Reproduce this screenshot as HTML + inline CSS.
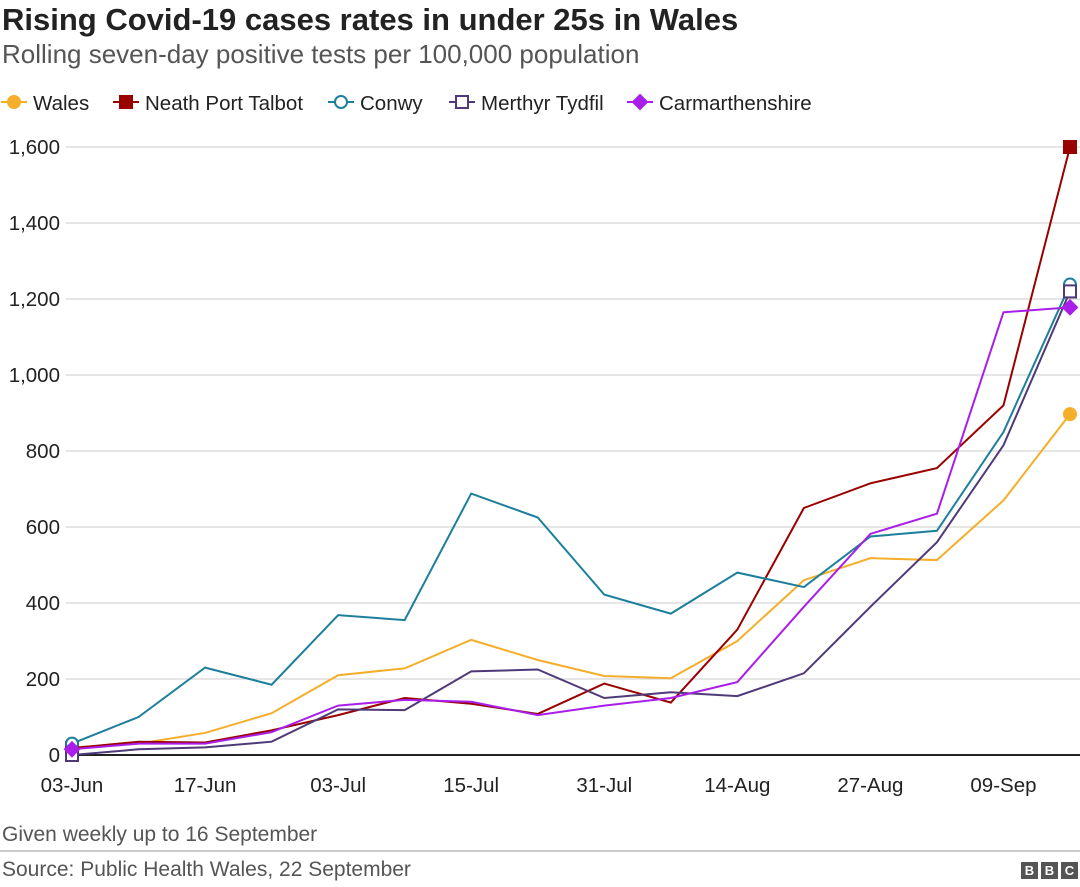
<!DOCTYPE html>
<html><head><meta charset="utf-8"><style>
body{margin:0;width:1080px;height:887px;background:#fff;font-family:"Liberation Sans",sans-serif;overflow:hidden}
</style></head><body>
<svg width="1080" height="887" id="c" style="position:absolute;left:0;top:0">
<text x="2" y="30" font-size="31" font-weight="bold" fill="#222">Rising Covid-19 cases rates in under 25s in Wales</text>
<text x="2" y="63" font-size="26" fill="#555">Rolling seven-day positive tests per 100,000 population</text>
<g id="legend"></g>
<g id="grid"></g>
<g id="series"></g>
<text x="2" y="841" font-size="21" fill="#555">Given weekly up to 16 September</text>
<line x1="0" y1="851" x2="1080" y2="851" stroke="#999"/>
<text x="2" y="876" font-size="21" fill="#555">Source: Public Health Wales, 22 September</text>
<g font-size="13" font-weight="bold" fill="#fff" text-anchor="middle">
<rect x="1021" y="862" width="17" height="17" fill="#555"/><rect x="1041" y="862" width="17" height="17" fill="#555"/><rect x="1061" y="862" width="17" height="17" fill="#555"/>
<text x="1029.5" y="875">B</text><text x="1049.5" y="875">B</text><text x="1069.5" y="875">C</text></g>
</svg>
<script>
const categories=["03-Jun","10-Jun","17-Jun","24-Jun","03-Jul","08-Jul","15-Jul","22-Jul","31-Jul","07-Aug","14-Aug","21-Aug","27-Aug","03-Sep","09-Sep","16-Sep"];
const xTickLabels=["03-Jun","17-Jun","03-Jul","15-Jul","31-Jul","14-Aug","27-Aug","09-Sep"];
const yTicks=[0,200,400,600,800,1000,1200,1400,1600];
const wales=[20,30,58,110,210,228,303,250,208,202,300,460,518,513,670,897];
const neath=[18,35,33,65,105,150,135,108,188,138,330,650,715,755,920,1600];
const conwy=[30,100,230,185,368,355,688,625,422,372,480,442,575,590,850,1238];
const merthyr=[0,15,20,35,120,118,220,225,150,165,155,215,390,560,815,1220];
const carm=[15,30,30,60,130,145,140,105,130,150,192,390,582,635,1165,1178];
const NS="http://www.w3.org/2000/svg";
const X0=72,X1=1070,Y0=755,Y1=147;
const x=i=>X0+(X1-X0)*i/(categories.length-1);
const y=v=>Y0-(Y0-Y1)*v/1600;
function mk(t,a,p){const e=document.createElementNS(NS,t);for(const k in a)e.setAttribute(k,a[k]);p.appendChild(e);return e;}
const grid=document.getElementById('grid');
yTicks.forEach(v=>{
 const l=mk('line',{x1:v?66:66,x2:1080,y1:y(v),y2:y(v),stroke:v?'#ccc':'#222','stroke-width':v?1:2},grid);
 
 
 const t=mk('text',{x:60,y:y(v)+7,'font-size':20.5,fill:'#222','text-anchor':'end'},grid);
 t.textContent=v.toLocaleString('en-US');
 
 
});
xTickLabels.forEach(lab=>{
 const i=categories.indexOf(lab);
 const t=mk('text',{x:x(i),y:792,'font-size':20.5,fill:'#222','text-anchor':'middle'},grid);
 t.textContent=lab;
 
 
});
const series=[
 {n:'Wales',d:wales,c:'#f5ae2a',m:'circle',f:true},
 {n:'Neath Port Talbot',d:neath,c:'#990000',m:'square',f:true},
 {n:'Conwy',d:conwy,c:'#1d7f9b',m:'circle',f:false},
 {n:'Merthyr Tydfil',d:merthyr,c:'#4e3a78',m:'square',f:false},
 {n:'Carmarthenshire',d:carm,c:'#a91ee8',m:'diamond',f:true}];
function marker(s,cx,cy,p,r){
 const a={fill:s.f?s.c:'#fff',stroke:s.c,'stroke-width':2};
 let e;
 if(s.m=='circle')e=mk('circle',Object.assign({cx,cy,r},a),p);
 else if(s.m=='square')e=mk('rect',Object.assign({x:cx-r,y:cy-r,width:2*r,height:2*r},a),p);
 else e=mk('polygon',Object.assign({points:`${cx},${cy-r-1} ${cx+r+1},${cy} ${cx},${cy+r+1} ${cx-r-1},${cy}`},a),p);
 
 
}
const sg=document.getElementById('series');
series.forEach(s=>{
 const pl=mk('polyline',{points:s.d.map((v,i)=>x(i)+','+y(v)).join(' '),fill:'none',stroke:s.c,'stroke-width':2},sg);
 
 
});
series.forEach(s=>{marker(s,x(0),y(s.d[0]),sg,6);marker(s,x(s.d.length-1),y(s.d[s.d.length-1]),sg,6);});
const lg=document.getElementById('legend');
const lpos=[1,113,328,449,627];
series.forEach((s,i)=>{
 const lx=lpos[i];
 const g=mk('g',{},lg);
 
 
 mk('line',{x1:lx,x2:lx+26,y1:102,y2:102,stroke:s.c,'stroke-width':2},g);
 marker(s,lx+13,102,g,6);
 const t=mk('text',{x:lx+32,y:110,'font-size':20.5,fill:'#222'},g);
 t.textContent=s.n;
 
 
});
</script>
</body></html>
